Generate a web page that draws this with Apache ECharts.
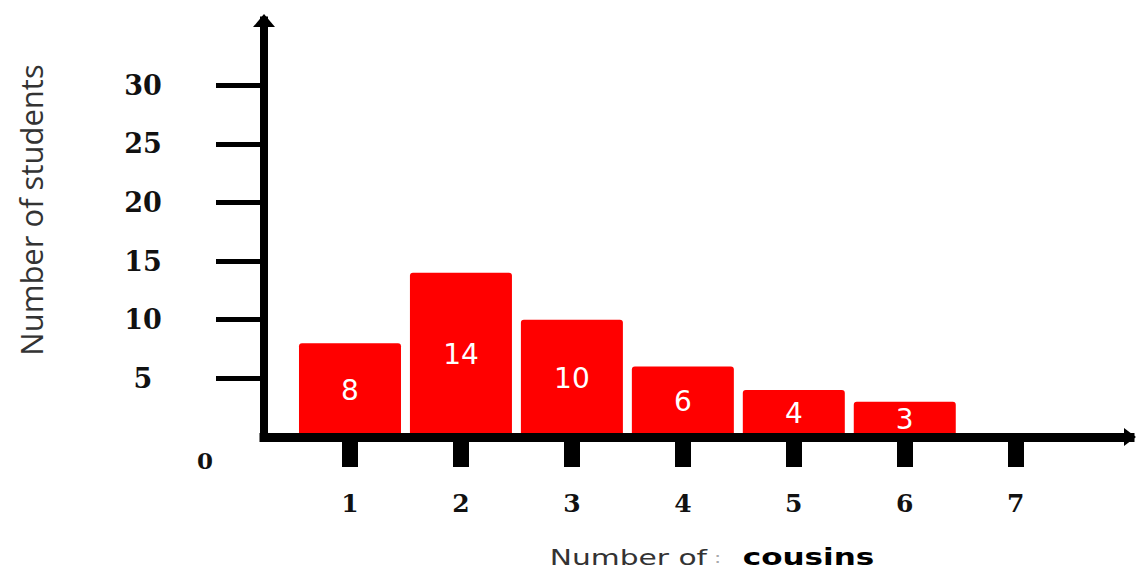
<!DOCTYPE html>
<html>
<head>
<meta charset="utf-8">
<title>Number of cousins</title>
<script src="https://cdn.jsdelivr.net/npm/echarts@6/dist/echarts.min.js"></script>
<style>
  html, body { margin: 0; padding: 0; background: #ffffff; }
  #chart { width: 1137px; height: 581px; }
</style>
</head>
<body>
<div id="chart"></div>
<script>
// Number of cousins per student and how many students have that many
const cousins = [1, 2, 3, 4, 5, 6];
const students = [8, 14, 10, 6, 4, 3];

// Axis ticks and labels
const xTickValues = [1, 2, 3, 4, 5, 6, 7];
const yTickValues = [5, 10, 15, 20, 25, 30];
const yLabelValues = [0, 5, 10, 15, 20, 25, 30];

// Axis titles
const yTitle = 'Number of students';
const xTitleLead = 'Number of';
const xTitleMark = ':';
const xTitleTail = 'cousins';

const barData = cousins.map((c, i) => [c, students[i]]);

const serifDigits = { fontFamily: 'DejaVu Serif', fontWeight: 'bold', color: '#111' };

const chart = echarts.init(document.getElementById('chart'), null, { renderer: 'svg' });

chart.setOption({
  backgroundColor: '#ffffff',
  animation: false,
  grid: { left: 264, right: 7, top: 20.6, bottom: 144, outerBoundsMode: 'none' },
  xAxis: {
    type: 'value',
    min: 0.225,
    max: 8.03,
    z: 5,
    splitLine: { show: false },
    axisLine: {
      show: true,
      symbol: ['none', 'triangle'],
      symbolSize: [18, 12],
      lineStyle: { color: '#000', width: 9, cap: 'square' }
    },
    axisTick: {
      show: true,
      customValues: xTickValues,
      length: 30,
      lineStyle: { color: '#000', width: 16 }
    },
    axisLabel: {
      show: true,
      customValues: xTickValues,
      margin: 54,
      fontSize: 25,
      ...serifDigits
    }
  },
  yAxis: {
    type: 'value',
    min: 0,
    max: 35.5,
    z: 5,
    splitLine: { show: false },
    axisLine: {
      show: true,
      symbol: ['none', 'triangle'],
      symbolSize: [22, 13],
      lineStyle: { color: '#000', width: 8, cap: 'square' }
    },
    axisTick: {
      show: true,
      customValues: yTickValues,
      length: 48,
      lineStyle: { color: '#000', width: 5 }
    },
    axisLabel: {
      show: true,
      customValues: yLabelValues,
      margin: 121,
      align: 'center',
      formatter: v => (v === 0 ? '{z|0}' : '{n|' + v + '}'),
      rich: {
        n: { fontSize: 27, ...serifDigits },
        z: { fontSize: 23, ...serifDigits, padding: [46, 0, 0, 124] }
      }
    }
  },
  series: [{
    type: 'bar',
    data: barData,
    barWidth: 102,
    itemStyle: { color: '#ff0000', borderRadius: [3, 3, 0, 0] },
    label: {
      show: true,
      position: 'inside',
      color: '#ffffff',
      fontFamily: 'DejaVu Sans',
      fontSize: 28,
      formatter: p => String(p.value[1])
    }
  }],
  graphic: [
    {
      type: 'text',
      x: 31,
      y: 210,
      rotation: Math.PI / 2,
      style: {
        text: yTitle,
        fontFamily: 'Open Sans',
        fontSize: 31,
        fill: '#333333',
        align: 'center',
        verticalAlign: 'middle'
      }
    },
    {
      type: 'text',
      x: 712,
      y: 557,
      scaleX: 1.35,
      style: {
        text: '{a|' + xTitleLead + '}{b| ' + xTitleMark + '}{c|  ' + xTitleTail + '}',
        align: 'center',
        verticalAlign: 'middle',
        rich: {
          a: { fontFamily: 'DejaVu Sans', fontSize: 22, fill: '#333333', color: '#333333' },
          b: { fontFamily: 'DejaVu Sans', fontSize: 16, fill: '#aaaaaa', color: '#aaaaaa' },
          c: { fontFamily: 'DejaVu Sans', fontWeight: 'bold', fontSize: 23, fill: '#000', color: '#000' }
        }
      }
    }
  ]
});
</script>
</body>
</html>
